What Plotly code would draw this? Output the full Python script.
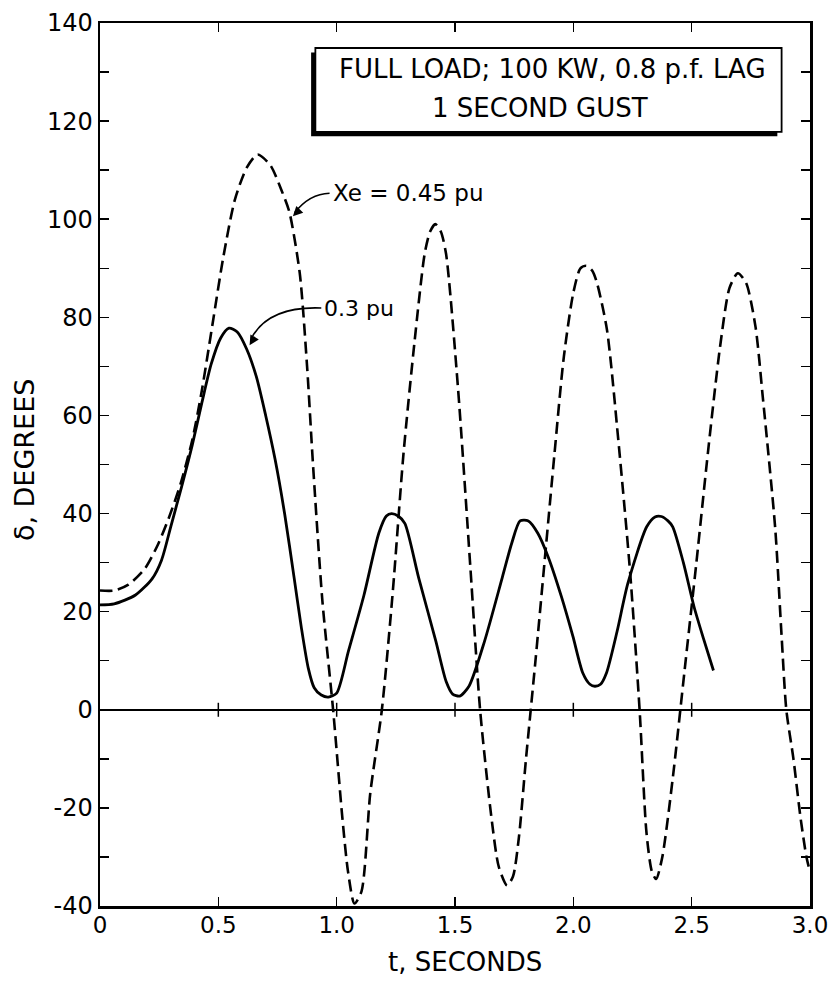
import plotly.graph_objects as go

# 0.3 pu (solid) curve
t_solid = [0, 0.06, 0.15, 0.22, 0.26, 0.30, 0.345, 0.39, 0.43, 0.47, 0.51, 0.545, 0.58, 0.62,
           0.66, 0.70, 0.74, 0.78, 0.82, 0.85, 0.88, 0.905, 0.935, 0.965, 1.0, 1.05, 1.115,
           1.178, 1.21, 1.232, 1.26, 1.288, 1.346, 1.419, 1.463, 1.49, 1.52, 1.559, 1.625,
           1.70, 1.74, 1.775, 1.81, 1.85, 1.895, 1.95, 1.998, 2.04, 2.07, 2.091, 2.115, 2.14,
           2.185, 2.23, 2.31, 2.345, 2.372, 2.40, 2.42, 2.465, 2.51, 2.55, 2.592]
d_solid = [21.4, 21.6, 23.4, 26.7, 30.5, 37.5, 45.5, 54, 62.5, 70.5, 75.8, 77.8, 77, 73.5,
           68, 60, 51, 40, 27, 17, 8.5, 4.5, 3, 2.6, 3.4, 12, 23.3,
           36, 39.5, 40, 39.5, 38, 27, 14, 5.7, 3.2, 2.8, 4.8, 14,
           27, 34, 38.5, 38.5, 36, 31, 23, 15, 7.5, 5.2, 4.8, 5.2, 7.5,
           16, 25.7, 37.3, 39.3, 39.4, 38.5, 37.3, 30, 21, 14.5, 8]

# Xe = 0.45 pu (dashed) curve
t_dash = [0, 0.06, 0.12, 0.19, 0.245, 0.29, 0.34, 0.39, 0.43, 0.48, 0.52, 0.57, 0.62, 0.666,
          0.72, 0.766, 0.80, 0.844, 0.875, 0.90, 0.94, 0.985, 1.024, 1.048, 1.075, 1.105,
          1.142, 1.191, 1.237, 1.282, 1.329, 1.372, 1.395, 1.417, 1.44, 1.462, 1.512, 1.565,
          1.606, 1.654, 1.685, 1.72, 1.745, 1.77, 1.80, 1.84, 1.88, 1.92, 1.96, 2.00, 2.03,
          2.055, 2.08, 2.10, 2.142, 2.19, 2.24, 2.28, 2.309, 2.332, 2.35, 2.376, 2.42, 2.47,
          2.52, 2.57, 2.62, 2.66, 2.695, 2.73, 2.77, 2.80, 2.853, 2.88, 2.90, 2.93, 2.96,
          2.985, 3.0]
d_dash = [24.3, 24.3, 25.5, 28.8, 33.7, 39, 46, 55, 65, 80, 92, 104, 110.5, 113.2,
          111, 106, 101.5, 89, 70, 50, 22, 0, -22, -33, -39.5, -37,
          -17, 0, 24, 52, 75, 93, 97.5, 99, 97.5, 93, 66, 29,
          0, -22, -32, -35.8, -34, -26, -10, 10, 31, 52, 72, 85, 90,
          90.5, 89.5, 87, 77.5, 55, 28, 0, -25, -33, -34.5, -30, -14, 8,
          30, 53, 74, 86, 89, 87, 78, 64, 37, 15, 0, -10, -22,
          -30, -33]

x_ticks = [0, 0.5, 1.0, 1.5, 2.0, 2.5, 3.0]
x_labels = ["0", "0.5", "1.0", "1.5", "2.0", "2.5", "3.0"]
y_ticks = list(range(-40, 141, 10))
y_labels = [str(v) if v % 20 == 0 else "" for v in y_ticks]
zero_marks = [0.5, 1.0, 1.5, 2.0, 2.5]

FONT = "DejaVu Sans"

fig = go.Figure()
fig.add_trace(go.Scatter(x=t_dash, y=d_dash, mode="lines",
                         line=dict(color="black", width=2.6, dash="12px,6px",
                                   shape="spline", smoothing=0.7),
                         showlegend=False, hoverinfo="skip"))
fig.add_trace(go.Scatter(x=t_solid, y=d_solid, mode="lines",
                         line=dict(color="black", width=2.8, shape="spline", smoothing=0.7),
                         showlegend=False, hoverinfo="skip"))
fig.add_trace(go.Scatter(x=zero_marks, y=[0] * len(zero_marks), mode="markers",
                         marker=dict(symbol="line-ns", size=10,
                                     line=dict(color="black", width=1.5)),
                         showlegend=False, hoverinfo="skip"))

axis_common = dict(ticks="inside", ticklen=9, tickwidth=1.5, tickcolor="black",
                   showline=True, linecolor="black", linewidth=2.5, mirror="ticks",
                   showgrid=False, automargin=False, ticklabeloverflow="allow")

fig.update_layout(
    width=828, height=994,
    margin=dict(l=100, r=18, t=23, b=88),
    paper_bgcolor="white", plot_bgcolor="white",
    font=dict(family=FONT, color="black", size=24),
    xaxis=dict(range=[0, 3], tickvals=x_ticks, ticktext=x_labels, zeroline=False,
               ticklabelstandoff=-3, tickfont=dict(family=FONT, size=23, color="black"),
               **axis_common),
    yaxis=dict(range=[-40, 140], tickvals=y_ticks, ticktext=y_labels,
               zeroline=True, zerolinecolor="black", zerolinewidth=1.5,
               tickfont=dict(family=FONT, size=24, color="black"),
               **axis_common),
)

# Info box with shadow
bx0, bx1, by0, by1 = 0.91, 2.88, 117.8, 134.9
fig.add_shape(type="rect", xref="x", yref="y", x0=bx0 - 0.018, x1=bx1 - 0.018,
              y0=by0 - 0.9, y1=by1 - 0.9, fillcolor="black", line=dict(width=0),
              layer="above")
fig.add_shape(type="rect", xref="x", yref="y", x0=bx0, x1=bx1, y0=by0, y1=by1,
              fillcolor="white", line=dict(color="black", width=1.8), layer="above")

fig.add_annotation(x=1.911, y=130.6, xref="x", yref="y",
                   text="FULL LOAD; 100 KW, 0.8 p.f. LAG", showarrow=False,
                   xanchor="center", yanchor="middle",
                   font=dict(family=FONT, size=26, color="black"))
fig.add_annotation(x=1.861, y=122.7, xref="x", yref="y",
                   text="1 SECOND GUST", showarrow=False,
                   xanchor="center", yanchor="middle",
                   font=dict(family=FONT, size=26, color="black"))

# Curve labels (text + curved leader + arrowhead)
fig.add_annotation(x=0.975, y=105.3, xref="x", yref="y", xanchor="left", yanchor="middle",
                   text="Xe = 0.45 pu", showarrow=False,
                   font=dict(family=FONT, size=23, color="black"))
fig.add_shape(type="path", xref="x", yref="y",
              path="M 0.97,105.3 Q 0.885,105.2 0.822,101.3",
              line=dict(color="black", width=1.6))
fig.add_annotation(x=0.815, y=100.6, xref="x", yref="y", ax=7, ay=-7, text="",
                   showarrow=True, arrowhead=2, arrowsize=1.3, arrowwidth=1.5,
                   arrowcolor="black", standoff=0)

fig.add_annotation(x=0.94, y=81.9, xref="x", yref="y", xanchor="left", yanchor="middle",
                   text="0.3 pu", showarrow=False,
                   font=dict(family=FONT, size=22, color="black"))
fig.add_shape(type="path", xref="x", yref="y",
              path="M 0.935,81.9 Q 0.72,82.3 0.645,76.2",
              line=dict(color="black", width=1.6))
fig.add_annotation(x=0.632, y=74.3, xref="x", yref="y", ax=6, ay=-10, text="",
                   showarrow=True, arrowhead=2, arrowsize=1.3, arrowwidth=1.5,
                   arrowcolor="black", standoff=0)

# Axis titles
fig.add_annotation(x=0.514, y=-0.063, xref="paper", yref="paper",
                   xanchor="center", yanchor="middle",
                   text="t, SECONDS", showarrow=False,
                   font=dict(family=FONT, size=26, color="black"))
fig.add_annotation(x=-0.107, y=0.505, xref="paper", yref="paper",
                   xanchor="center", yanchor="middle",
                   text="δ, DEGREES", showarrow=False, textangle=-90,
                   font=dict(family=FONT, size=27, color="black"))

fig.write_html("out.html",
               config={"displayModeBar": False, "staticPlot": True},
               post_script="document.body.style.margin='0px';"
                           "document.body.style.overflow='hidden';")
